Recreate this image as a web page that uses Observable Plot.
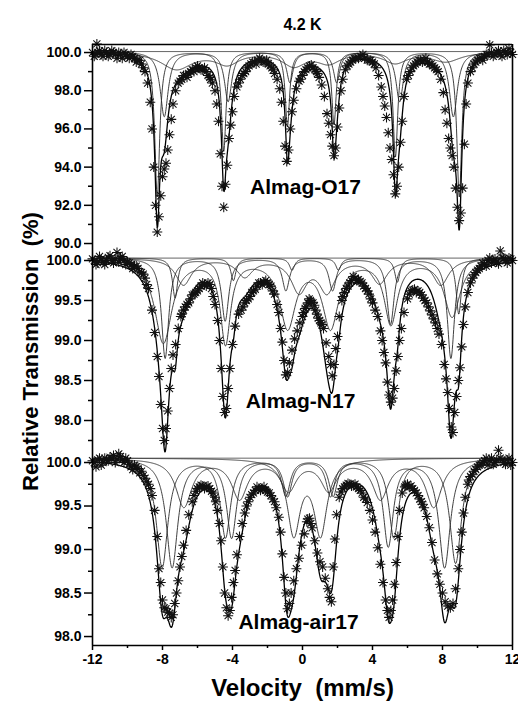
<!DOCTYPE html>
<html><head><meta charset="utf-8">
<script src="https://cdn.jsdelivr.net/npm/d3@7"></script>
<script src="https://cdn.jsdelivr.net/npm/@observablehq/plot@0.6"></script>
<style>
html,body{margin:0;padding:0;background:#fff;}
#chart{width:518px;height:711px;overflow:hidden;}
#chart svg{display:block;}
</style></head><body><div id="chart"></div>
<script>
const title = "4.2 K";
const xLabel = "Velocity\u00a0 (mm/s)";
const yLabel = "Relative Transmission\u00a0 (%)";
const sampleNames = ["Almag-O17", "Almag-N17", "Almag-air17"];
const xDomain = [-12, 12];
const velocityTicks = [-12, -8, -4, 0, 4, 8, 12];
const velocityMinor = [-10, -6, -2, 2, 6, 10];
const yTicksO17 = [90, 92, 94, 96, 98, 100];
const yMinorO17 = [91, 93, 95, 97, 99];
const yTicksN17 = [98, 98.5, 99, 99.5, 100];
const yMinorN17 = [97.75, 98.25, 98.75, 99.25, 99.75];
const yTicksAir17 = [98, 98.5, 99, 99.5, 100];
const yMinorAir17 = [98.25, 98.75, 99.25, 99.75];

const dataO17 = [[-12,100.0],[-11.75,100.45],[-11.8,99.9],[-11.6,100.1],[-11.4,99.8],[-11.2,100.0],[-11.0,99.9],[-10.8,100.0],[-10.6,99.7],[-10.4,99.9],[-10.2,100.0],[-10.0,99.8],[-9.8,99.9],[-9.6,99.7],[-9.4,99.6],[-9.2,99.4],[-9.0,99.0],[-8.85,98.4],[-8.7,97.4],[-8.6,96.0],[-8.5,94.0],[-8.4,92.0],[-8.3,90.6],[-8.2,91.4],[-8.1,92.5],[-8.0,93.5],[-7.9,93.9],[-7.8,94.2],[-7.7,94.9],[-7.6,95.7],[-7.5,96.5],[-7.4,97.3],[-7.25,98.0],[-7.1,98.4],[-6.9,98.6],[-6.7,98.8],[-6.5,98.9],[-6.3,99.1],[-6.1,99.2],[-5.9,99.2],[-5.7,99.1],[-5.5,99.0],[-5.3,98.7],[-5.15,98.4],[-5.0,98.0],[-4.9,97.3],[-4.8,96.4],[-4.7,94.7],[-4.6,93.0],[-4.5,91.9],[-4.4,93.1],[-4.3,94.1],[-4.2,95.5],[-4.1,96.2],[-4.0,96.9],[-3.9,97.7],[-3.75,98.2],[-3.55,98.6],[-3.35,98.9],[-3.15,99.2],[-2.95,99.4],[-2.75,99.5],[-2.55,99.6],[-2.35,99.6],[-2.15,99.5],[-1.95,99.4],[-1.75,99.2],[-1.6,98.9],[-1.45,98.6],[-1.3,98.1],[-1.2,97.4],[-1.1,96.4],[-1.0,95.1],[-0.9,94.3],[-0.8,94.9],[-0.7,96.0],[-0.6,96.9],[-0.5,97.5],[-0.35,98.1],[-0.2,98.5],[0.0,98.8],[0.2,99.1],[0.4,99.3],[0.6,99.2],[0.8,99.0],[0.95,98.7],[1.1,98.3],[1.25,97.7],[1.4,96.8],[1.5,96.3],[1.6,95.7],[1.7,95.1],[1.8,94.6],[1.9,95.0],[2.0,96.1],[2.1,97.1],[2.2,98.0],[2.3,98.6],[2.45,99.1],[2.65,99.4],[2.85,99.6],[3.05,99.7],[3.3,99.8],[3.55,99.7],[3.8,99.6],[4.0,99.5],[4.2,99.2],[4.35,98.8],[4.5,98.2],[4.6,97.7],[4.7,97.2],[4.8,96.6],[4.9,95.8],[5.0,95.0],[5.1,94.4],[5.2,93.6],[5.3,92.6],[5.4,93.0],[5.5,94.0],[5.6,95.3],[5.7,96.4],[5.8,97.7],[5.95,98.6],[6.15,99.0],[6.35,99.3],[6.55,99.5],[6.75,99.6],[6.95,99.6],[7.15,99.5],[7.35,99.4],[7.55,99.2],[7.75,99.0],[7.9,98.6],[8.05,97.9],[8.15,97.0],[8.25,96.3],[8.35,95.5],[8.45,95.0],[8.55,94.6],[8.65,94.0],[8.75,92.9],[8.85,91.9],[8.95,91.2],[9.05,91.6],[9.15,92.9],[9.25,95.2],[9.35,97.3],[9.45,98.4],[9.6,99.0],[9.8,99.4],[10.0,99.6],[10.2,99.7],[10.4,99.8],[10.6,99.9],[10.7,100.4],[10.8,100.0],[11.0,99.9],[11.2,100.1],[11.4,99.8],[11.6,100.0],[11.8,100.2],[12.0,99.9]];
// further points of the dense clusters on the shoulders
const dataO17Shoulders = [[-11.9,99.8],[-11.7,100.0],[-11.5,99.9],[-11.3,100.1],[-11.1,99.8],[-10.9,100.1],[-10.7,99.9],[-10.5,100.0],[-10.3,99.7],[-10.1,99.9],[-9.9,99.7],[-9.7,99.8],[-9.5,99.5],[-9.3,99.6],[-9.1,99.2],[-7.0,98.5],[-6.8,98.8],[-6.6,98.7],[-6.4,99.0],[-6.2,99.0],[-6.0,99.3],[-5.8,99.1],[-5.6,99.2],[-5.4,98.8],[-5.25,98.6],[-3.65,98.4],[-3.45,98.8],[-3.25,99.0],[-3.05,99.3],[-2.85,99.5],[-2.65,99.4],[-2.45,99.7],[-2.25,99.5],[-2.05,99.6],[-1.85,99.3],[-1.65,99.1],[-0.1,98.6],[0.1,99.0],[0.3,99.2],[0.5,99.35],[0.7,99.1],[0.85,98.9],[2.55,99.3],[2.75,99.5],[2.95,99.7],[3.2,99.7],[3.45,99.9],[3.7,99.6],[3.9,99.6],[4.1,99.4],[6.05,98.8],[6.25,99.2],[6.45,99.4],[6.65,99.6],[6.85,99.5],[7.05,99.7],[7.25,99.4],[7.45,99.3],[7.65,99.1],[9.7,99.2],[9.9,99.5],[10.1,99.7],[10.3,99.6],[10.5,99.9],[10.9,99.8],[11.1,100.0],[11.3,99.9],[11.5,100.1],[11.7,99.9],[11.9,100.0]];

const dataN17 = [[-12,100.02],[-11.8,99.95],[-11.6,100.05],[-11.4,99.98],[-11.2,100.0],[-11.0,100.06],[-10.8,99.97],[-10.6,100.1],[-10.4,100.03],[-10.2,100.0],[-10.0,99.98],[-9.8,99.95],[-9.6,99.93],[-9.4,99.9],[-9.2,99.85],[-9.0,99.78],[-8.8,99.65],[-8.6,99.38],[-8.45,99.1],[-8.3,98.8],[-8.2,98.55],[-8.1,98.2],[-8.0,97.9],[-7.9,97.75],[-7.8,97.9],[-7.7,98.12],[-7.6,98.4],[-7.5,98.65],[-7.4,98.82],[-7.25,98.95],[-7.1,99.15],[-6.95,99.3],[-6.8,99.38],[-6.6,99.45],[-6.4,99.52],[-6.2,99.58],[-6.0,99.62],[-5.8,99.68],[-5.6,99.7],[-5.4,99.72],[-5.2,99.65],[-5.0,99.45],[-4.85,99.25],[-4.75,99.0],[-4.65,98.65],[-4.55,98.3],[-4.45,98.1],[-4.35,98.15],[-4.25,98.4],[-4.15,98.65],[-4.0,98.95],[-3.85,99.18],[-3.65,99.33],[-3.4,99.42],[-3.2,99.5],[-3.0,99.55],[-2.8,99.62],[-2.6,99.68],[-2.4,99.72],[-2.2,99.73],[-2.0,99.72],[-1.8,99.68],[-1.6,99.58],[-1.45,99.45],[-1.35,99.35],[-1.25,99.15],[-1.15,98.98],[-1.05,98.75],[-0.95,98.57],[-0.85,98.6],[-0.75,98.72],[-0.6,98.88],[-0.45,99.02],[-0.3,99.12],[-0.15,99.22],[0.0,99.3],[0.15,99.4],[0.3,99.47],[0.45,99.5],[0.6,99.47],[0.75,99.38],[0.9,99.28],[1.05,99.22],[1.2,99.15],[1.35,98.97],[1.5,98.8],[1.6,98.7],[1.7,98.56],[1.8,98.7],[1.9,98.9],[2.0,99.05],[2.1,99.3],[2.25,99.5],[2.4,99.6],[2.6,99.68],[2.8,99.75],[3.0,99.78],[3.2,99.76],[3.4,99.72],[3.6,99.65],[3.8,99.58],[4.0,99.47],[4.15,99.38],[4.3,99.3],[4.45,99.12],[4.55,99.0],[4.65,98.85],[4.75,98.72],[4.85,98.48],[4.95,98.32],[5.05,98.23],[5.15,98.28],[5.25,98.4],[5.35,98.62],[5.45,98.8],[5.55,99.0],[5.65,99.15],[5.8,99.35],[6.0,99.52],[6.2,99.62],[6.4,99.64],[6.6,99.62],[6.8,99.57],[7.0,99.5],[7.2,99.42],[7.4,99.32],[7.6,99.22],[7.8,99.08],[7.95,98.95],[8.1,98.7],[8.2,98.52],[8.3,98.35],[8.4,98.15],[8.5,97.92],[8.6,97.85],[8.7,98.1],[8.8,98.3],[8.9,98.5],[9.0,98.66],[9.1,98.92],[9.2,99.2],[9.3,99.42],[9.45,99.6],[9.6,99.72],[9.8,99.82],[10.0,99.88],[10.2,99.93],[10.4,99.95],[10.6,100.0],[10.8,99.97],[11.0,100.02],[11.2,99.96],[11.3,100.12],[11.4,100.04],[11.6,100.0],[11.8,100.03],[12.0,100.0]];
const dataN17Shoulders = [[-11.9,100.0],[-11.7,99.97],[-11.5,100.02],[-11.3,99.95],[-11.1,100.04],[-10.9,100.0],[-10.7,100.02],[-10.5,99.98],[-10.3,100.05],[-10.1,99.95],[-9.9,99.97],[-9.7,99.9],[-9.5,99.93],[-9.3,99.86],[-9.1,99.83],[-8.9,99.7],[-6.9,99.33],[-6.7,99.42],[-6.5,99.47],[-6.3,99.57],[-6.1,99.6],[-5.9,99.65],[-5.7,99.72],[-5.5,99.68],[-5.3,99.7],[-5.1,99.55],[-3.5,99.38],[-3.3,99.47],[-3.1,99.52],[-2.9,99.6],[-2.7,99.64],[-2.5,99.72],[-2.3,99.7],[-2.1,99.75],[-1.9,99.7],[-1.7,99.62],[0.05,99.35],[0.22,99.42],[0.38,99.52],[0.52,99.48],[0.68,99.44],[0.82,99.33],[0.98,99.25],[1.12,99.2],[2.3,99.55],[2.5,99.65],[2.7,99.72],[2.9,99.8],[3.1,99.75],[3.3,99.74],[3.5,99.68],[3.7,99.62],[3.9,99.52],[6.1,99.58],[6.3,99.63],[6.5,99.6],[6.7,99.6],[6.9,99.53],[7.1,99.47],[7.3,99.37],[7.5,99.27],[7.7,99.15],[9.7,99.78],[9.9,99.85],[10.1,99.9],[10.3,99.97],[10.5,99.93],[10.7,100.03],[10.9,100.0],[11.1,99.98],[11.5,100.03],[11.7,99.97],[11.9,100.02]];

const dataAir17 = [[-12,100.02],[-11.8,99.95],[-11.6,100.05],[-11.4,100.0],[-11.2,100.03],[-11.0,100.06],[-10.8,100.08],[-10.6,100.04],[-10.4,100.07],[-10.2,100.0],[-10.0,100.02],[-9.8,99.95],[-9.6,99.97],[-9.4,99.93],[-9.2,99.9],[-9.0,99.82],[-8.8,99.75],[-8.6,99.62],[-8.45,99.45],[-8.3,99.15],[-8.2,98.78],[-8.1,98.62],[-8.0,98.42],[-7.9,98.33],[-7.8,98.32],[-7.7,98.28],[-7.6,98.27],[-7.5,98.22],[-7.4,98.25],[-7.3,98.38],[-7.2,98.5],[-7.1,98.64],[-7.0,98.8],[-6.9,98.92],[-6.8,99.05],[-6.65,99.22],[-6.5,99.4],[-6.3,99.55],[-6.1,99.67],[-5.9,99.72],[-5.7,99.73],[-5.5,99.72],[-5.3,99.7],[-5.1,99.65],[-4.95,99.55],[-4.85,99.45],[-4.75,99.3],[-4.65,99.1],[-4.55,98.8],[-4.45,98.5],[-4.35,98.33],[-4.25,98.24],[-4.15,98.3],[-4.05,98.45],[-3.95,98.62],[-3.85,98.76],[-3.75,98.94],[-3.6,99.15],[-3.45,99.3],[-3.3,99.42],[-3.1,99.55],[-2.9,99.63],[-2.7,99.68],[-2.5,99.7],[-2.3,99.7],[-2.1,99.68],[-1.9,99.65],[-1.7,99.58],[-1.5,99.48],[-1.35,99.37],[-1.25,99.2],[-1.15,98.95],[-1.05,98.68],[-0.95,98.5],[-0.85,98.32],[-0.75,98.38],[-0.65,98.5],[-0.5,98.64],[-0.35,98.78],[-0.2,98.9],[-0.05,99.05],[0.1,99.18],[0.25,99.32],[0.4,99.36],[0.55,99.25],[0.7,99.1],[0.85,98.96],[1.0,98.86],[1.15,98.8],[1.3,98.67],[1.45,98.55],[1.55,98.45],[1.65,98.4],[1.75,98.8],[1.85,99.12],[1.95,99.4],[2.1,99.6],[2.3,99.7],[2.5,99.74],[2.7,99.75],[2.9,99.74],[3.1,99.72],[3.3,99.68],[3.5,99.6],[3.7,99.54],[3.85,99.45],[4.0,99.34],[4.15,99.2],[4.3,99.02],[4.45,98.83],[4.6,98.62],[4.75,98.42],[4.85,98.3],[4.95,98.22],[5.05,98.3],[5.15,98.42],[5.25,98.6],[5.35,98.85],[5.45,99.15],[5.55,99.45],[5.7,99.65],[5.85,99.72],[6.0,99.75],[6.2,99.73],[6.4,99.68],[6.6,99.62],[6.8,99.55],[6.95,99.48],[7.1,99.38],[7.25,99.25],[7.4,99.08],[7.55,98.88],[7.7,98.72],[7.85,98.6],[8.0,98.5],[8.15,98.4],[8.3,98.35],[8.45,98.33],[8.6,98.38],[8.75,98.55],[8.9,98.78],[9.0,99.0],[9.1,99.2],[9.2,99.42],[9.3,99.6],[9.45,99.75],[9.6,99.84],[9.8,99.9],[10.0,99.95],[10.2,99.98],[10.4,100.02],[10.6,99.97],[10.8,100.05],[11.0,100.0],[11.2,100.14],[11.4,100.03],[11.6,99.98],[11.8,100.05],[12.0,100.0]];
const dataAir17Shoulders = [[-11.9,100.0],[-11.7,100.03],[-11.5,99.97],[-11.3,100.05],[-11.1,100.02],[-10.9,100.05],[-10.7,100.0],[-10.5,100.1],[-10.3,100.03],[-10.1,100.05],[-9.9,99.98],[-9.7,99.92],[-9.5,99.95],[-9.3,99.88],[-9.1,99.85],[-8.9,99.78],[-8.7,99.7],[-6.2,99.62],[-6.0,99.7],[-5.8,99.74],[-5.6,99.7],[-5.4,99.73],[-5.2,99.67],[-5.0,99.6],[-3.2,99.5],[-3.0,99.6],[-2.8,99.65],[-2.6,99.72],[-2.4,99.68],[-2.2,99.72],[-2.0,99.66],[-1.8,99.62],[-1.6,99.55],[0.3,99.35],[0.48,99.3],[2.2,99.66],[2.4,99.72],[2.6,99.76],[2.8,99.73],[3.0,99.75],[3.2,99.7],[3.4,99.65],[3.6,99.58],[5.9,99.74],[6.1,99.72],[6.3,99.7],[6.5,99.65],[6.7,99.58],[6.85,99.52],[9.5,99.8],[9.7,99.86],[9.9,99.92],[10.1,99.97],[10.3,100.0],[10.5,100.05],[10.7,100.02],[10.9,99.98],[11.1,100.03],[11.3,100.05],[11.5,100.0],[11.7,100.03],[11.9,99.97]];

// fitted subspectra: line positions (mm/s), depths (%), widths FWHM (mm/s)
const baseO17 = 100.05;
const fitO17A = {pos:[-8.30,-4.50,-0.86,1.80,5.31,8.96], depth:[7.6,5.2,3.9,3.8,5.5,7.6], width:[0.34,0.32,0.30,0.30,0.32,0.34]};
const fitO17B = {pos:[-7.90,-4.25,-0.72,1.95,5.55,8.62], depth:[3.4,2.6,1.6,1.6,2.6,3.4], width:[0.55,0.50,0.45,0.45,0.50,0.55]};
const fitO17C = {pos:[-7.20,-4.30,-0.50,1.50,5.30,8.20], depth:[0.9,0.6,0.7,0.55,0.55,0.5], width:[2.2,1.6,1.6,1.6,1.6,2.0]};

const baseN17 = 100.03;
const fitN17A = {pos:[-7.85,-4.42,-0.95,1.72,5.03,8.48], depth:[1.25,0.78,0.40,0.40,0.82,1.25], width:[0.5,0.5,0.5,0.5,0.5,0.5]};
const fitN17B = {pos:[-7.28,-3.95,-0.60,2.05,5.42,8.93], depth:[0.5,0.28,0.15,0.15,0.3,0.7], width:[0.36,0.36,0.36,0.36,0.36,0.36]};
const fitN17C = {pos:[-7.95,-4.40,-0.85,1.60,5.05,8.55], depth:[1.05,1.04,0.84,0.84,0.8,0.72], width:[1.2,0.7,1.1,1.1,0.9,1.1]};
const fitN17D = {pos:[-6.80,-3.30,-0.20,1.40,4.40,7.90], depth:[0.33,0.22,0.4,0.4,0.3,0.33], width:[1.1,1.1,1.1,1.1,1.1,1.1]};

const baseAir17 = 100.05;
const fitAir17A = {pos:[-8.02,-4.40,-0.95,1.75,5.22,8.75], depth:[1.25,0.9,0.42,0.42,0.9,1.2], width:[0.8,0.7,0.6,0.6,0.7,0.8]};
const fitAir17B = {pos:[-7.45,-4.05,-0.85,1.60,4.90,8.12], depth:[1.25,0.9,0.42,0.42,1.0,1.25], width:[0.8,0.7,0.6,0.6,0.7,0.8]};
const fitAir17C = {pos:[-6.78,-3.60,-0.80,1.50,4.45,7.50], depth:[0.55,0.45,0.35,0.35,0.45,0.55], width:[1.1,1.1,1.1,1.1,1.1,1.1]};
const fitAir17D = {pos:[-0.50,1.03], depth:[0.85,0.85], width:[0.9,0.9]};

const font = '"Liberation Sans", Arial, Helvetica, sans-serif';
const grid = d3.range(xDomain[0], xDomain[1] + 1e-9, 0.02);
function lorentz(v, p, d, w) { const u = (v - p) / (w / 2); return d / (1 + u * u); }
function absorb(v, c) { return d3.sum(c.pos, (p, i) => lorentz(v, p, c.depth[i], c.width[i])); }
function componentRows(base, comps) {
  const rows = [];
  comps.forEach((c, k) => grid.forEach(v => rows.push({v, t: base - absorb(v, c), k})));
  return rows;
}
function totalRows(base, comps) { return grid.map(v => ({v, t: base - d3.sum(comps, c => absorb(v, c))})); }

const star8 = {
  draw(ctx, size) {
    const r = Math.sqrt(size / Math.PI), d = r * Math.SQRT1_2;
    ctx.moveTo(-r, 0); ctx.lineTo(r, 0);
    ctx.moveTo(0, -r); ctx.lineTo(0, r);
    ctx.moveTo(-d, -d); ctx.lineTo(d, d);
    ctx.moveTo(-d, d); ctx.lineTo(d, -d);
  }
};

function panel(o) {
  const marks = [
    Plot.ruleY([o.base], {stroke: "#555", strokeWidth: 0.9}),
    Plot.line(componentRows(o.base, o.comps), {x: "v", y: "t", z: "k", stroke: "#2a2a2a", strokeWidth: 0.9}),
    Plot.line(totalRows(o.base, o.comps), {x: "v", y: "t", stroke: "#000", strokeWidth: 1.3}),
    Plot.dot(o.data, {x: d => d[0], y: d => d[1], symbol: star8, r: 5, stroke: "#111", strokeWidth: 1.05, fill: "none"}),
    Plot.axisY(o.yTicks, {anchor: "left", tickSize: 8, tickPadding: 3, strokeWidth: 1.5, tickFormat: d3.format(".1f"), fontSize: 14, fontWeight: "bold", label: null}),
    Plot.axisY(o.yMinor, {anchor: "left", tickSize: 4, strokeWidth: 1.5, tickFormat: () => "", label: null}),
    Plot.ruleX(xDomain, {strokeWidth: 1.6}),
    Plot.text([o.name], {frameAnchor: "bottom", dx: o.nameDx, dy: o.nameDy, fontSize: 21, fontWeight: "bold"}),
    ...o.extra
  ];
  return Plot.plot({
    width: 518, height: o.height,
    marginLeft: 92, marginRight: 6, marginTop: o.marginTop, marginBottom: o.marginBottom,
    x: {domain: xDomain, axis: null}, y: {domain: o.yDomain, axis: null},
    style: {fontFamily: font, fontWeight: "bold", color: "#000", background: "transparent", overflow: "visible"},
    marks
  });
}

const yDomO17 = [89.53, 100.42];
const yDomN17 = [97.625, 100.1];
const yDomAir17 = [97.897, 100.138];

const panelO17 = panel({
  data: dataO17.concat(dataO17Shoulders), base: baseO17, comps: [fitO17A, fitO17B, fitO17C],
  yDomain: yDomO17, yTicks: yTicksO17, yMinor: yMinorO17,
  height: 252, marginTop: 44, marginBottom: 0, name: sampleNames[0], nameDx: 3, nameDy: -59,
  extra: [
    Plot.ruleY([yDomO17[1]], {strokeWidth: 1.6}),
    Plot.text([title], {frameAnchor: "top", dy: -26, fontSize: 16, fontWeight: "bold"})
  ]
});
const panelN17 = panel({
  data: dataN17.concat(dataN17Shoulders), base: baseN17, comps: [fitN17A, fitN17B, fitN17C, fitN17D],
  yDomain: yDomN17, yTicks: yTicksN17, yMinor: yMinorN17,
  height: 198, marginTop: 0, marginBottom: 0, name: sampleNames[1], nameDx: -2, nameDy: -43,
  extra: [
    Plot.text([yLabel], {frameAnchor: "left", dx: -62, rotate: -90, textAnchor: "middle", fontSize: 22, fontWeight: "bold"})
  ]
});
const panelAir17 = panel({
  data: dataAir17.concat(dataAir17Shoulders), base: baseAir17, comps: [fitAir17A, fitAir17B, fitAir17C, fitAir17D],
  yDomain: yDomAir17, yTicks: yTicksAir17, yMinor: yMinorAir17,
  height: 261, marginTop: 0, marginBottom: 66, name: sampleNames[2], nameDx: -4, nameDy: -17,
  extra: [
    Plot.ruleY([yDomAir17[0]], {strokeWidth: 1.6}),
    Plot.axisX(velocityTicks, {anchor: "bottom", tickSize: 5, tickPadding: 4, strokeWidth: 1.5, tickFormat: d => String(d), fontSize: 14, fontWeight: "bold", label: null}),
    Plot.axisX(velocityMinor, {anchor: "bottom", tickSize: 3, strokeWidth: 1.5, tickFormat: () => "", label: null}),
    Plot.text([xLabel], {frameAnchor: "bottom", dy: 50, fontSize: 24, fontWeight: "bold"})
  ]
});
document.getElementById("chart").append(panelO17, panelN17, panelAir17);
</script></body></html>
